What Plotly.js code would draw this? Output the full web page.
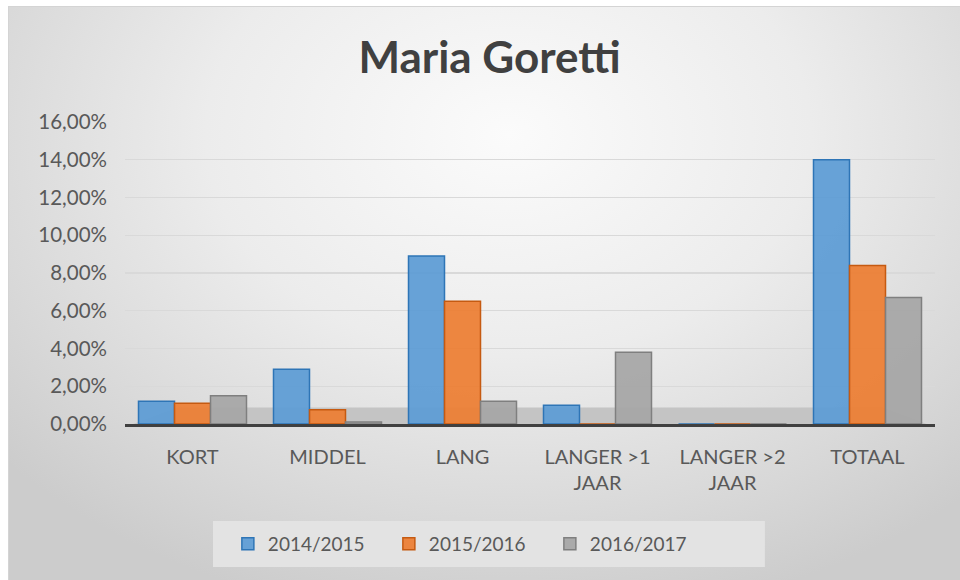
<!DOCTYPE html>
<html>
<head>
<meta charset="utf-8">
<script src="https://cdn.plot.ly/plotly-3.0.1.min.js"></script>
<style>
  html, body { margin: 0; padding: 0; background: #ffffff; }
  #wrap { position: relative; width: 960px; height: 580px; overflow: hidden; }
  #bg { position: absolute; left: 8px; top: 6px; width: 960px; height: 580px;
        border: 1px solid #d4d4d4;
        background: radial-gradient(ellipse 70% 85% at 52% 22%, #fbfbfb 0%, #ececec 45%, #d8d8d8 80%, #cccccc 100%); }
  #chart { position: absolute; left: 0; top: 0; width: 960px; height: 580px; }
</style>
</head>
<body>
<div id="wrap">
  <div id="bg"></div>
  <div id="chart"></div>
</div>
<script>
const categories = ["KORT", "MIDDEL", "LANG", "LANGER >1<br>JAAR", "LANGER >2<br>JAAR", "TOTAAL"];
const seriesNames = ["2014/2015", "2015/2016", "2016/2017"];
const v2014 = [0.012, 0.029, 0.089, 0.010, 0.0, 0.140];
const v2015 = [0.011, 0.0075, 0.065, 0.0, 0.0, 0.084];
const v2016 = [0.015, 0.001, 0.012, 0.038, 0.0, 0.067];
const fills = ["rgba(91,155,213,0.92)", "rgba(237,125,49,0.92)", "rgba(165,165,165,0.92)"];
const edges = ["#2e75b6", "#c55a11", "#7f7f7f"];

const values = [v2014, v2015, v2016];
const traces = values.map((vals, i) => ({
  type: "bar",
  name: seriesNames[i],
  x: categories,
  y: vals,
  marker: { color: fills[i], line: { color: edges[i], width: 1.5 } },
  hoverinfo: "x+y+name"
}));

const layout = {
  width: 960, height: 580,
  paper_bgcolor: "rgba(0,0,0,0)",
  plot_bgcolor: "rgba(0,0,0,0)",
  separators: ",.",
  font: { family: "Lato, 'Open Sans', sans-serif", color: "#595959" },
  margin: { l: 125, r: 25, t: 122, b: 156 },
  title: { text: "Maria Goretti", x: 0.51, xanchor: "center", y: 0.9, yanchor: "middle",
           font: { family: "Lato, 'Open Sans', sans-serif", size: 44, color: "#404040", weight: "bold" } },
  barmode: "group",
  bargap: 0.2,
  bargroupgap: 0,
  xaxis: {
    type: "category",
    showgrid: false,
    showline: true, linecolor: "#404040", linewidth: 3,
    ticks: "", ticklabelstandoff: 13,
    tickfont: { size: 20, color: "#595959" },
    fixedrange: true
  },
  yaxis: {
    range: [0, 0.16],
    dtick: 0.02,
    tickformat: ".2%",
    showgrid: true, gridcolor: "#d9d9d9", gridwidth: 1.2,
    zeroline: false, showline: false,
    ticks: "", ticklabelstandoff: 17,
    tickfont: { size: 20.5, color: "#595959" },
    fixedrange: true
  },
  shapes: [
    { type: "path", xref: "paper", yref: "paper", layer: "below",
      path: "M 0 -0.01 L 1 -0.01 L 0.935 0.055 L 0.065 0.055 Z",
      fillcolor: "#c4c4c4", line: { width: 0 } },
    { type: "rect", xref: "paper", yref: "paper", layer: "below",
      x0: 0.1086, x1: 0.790, y0: -0.321, y1: -0.4735,
      fillcolor: "#e3e3e3", line: { width: 0 } }
  ],
  legend: {
    orientation: "h", x: 0.127, xanchor: "left", y: -0.334, yanchor: "top",
    bgcolor: "rgba(0,0,0,0)", borderwidth: 0,
    font: { size: 19, color: "#595959" },
    entrywidth: 116, itemwidth: 30
  },
  showlegend: true
};

Plotly.newPlot("chart", traces, layout, { displayModeBar: false, staticPlot: true });
</script>
</body>
</html>
